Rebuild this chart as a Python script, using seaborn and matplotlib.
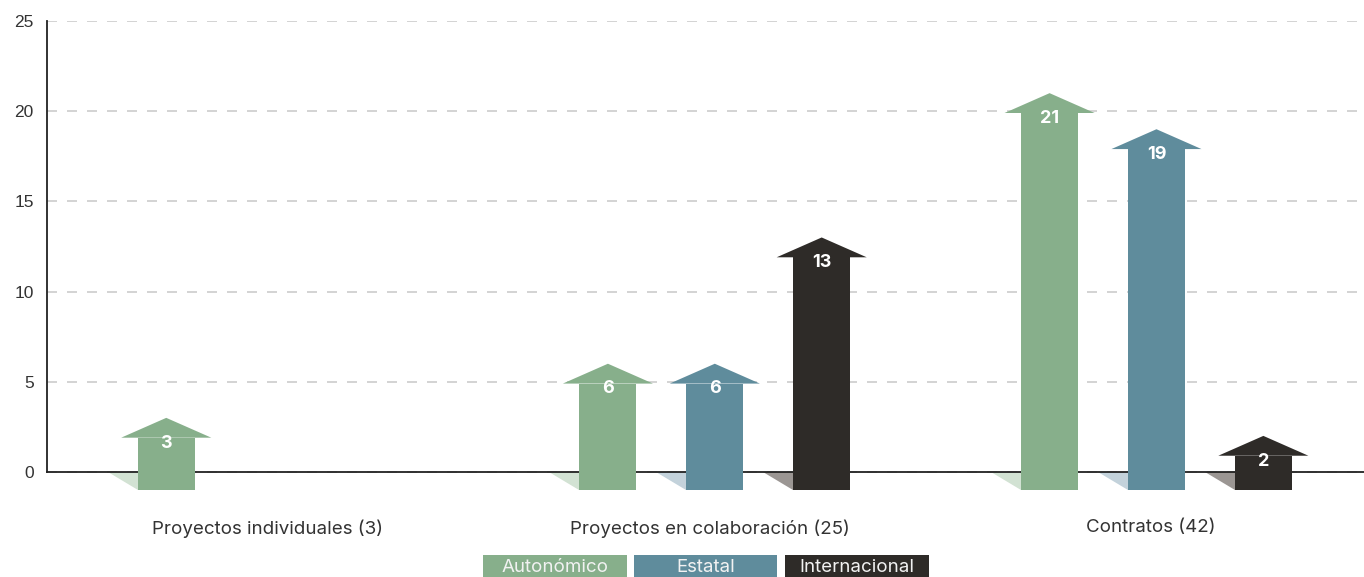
import matplotlib
matplotlib.use("Agg")
import matplotlib.pyplot as plt
from matplotlib.patches import Polygon, Rectangle
import pandas as pd
import seaborn as sns

categorias = ["Proyectos individuales (3)", "Proyectos en colaboración (25)", "Contratos (42)"]
tipos = ["Autonómico", "Estatal", "Internacional"]
cat_col = [categorias[0], categorias[1], categorias[1], categorias[1],
           categorias[2], categorias[2], categorias[2]]
tipo_col = ["Autonómico", "Autonómico", "Estatal", "Internacional",
            "Autonómico", "Estatal", "Internacional"]
valores = [3, 6, 6, 13, 21, 19, 2]
yticks = [0, 5, 10, 15, 20, 25]

colores = ["#87af8b", "#5f8c9c", "#2e2b28"]
sombras = ["#d2e2d3", "#c3d2db", "#9b9693"]

df = pd.DataFrame({"categoria": cat_col, "tipo": tipo_col, "valor": valores})

sns.set_style("white")
plt.rcParams["lines.scale_dashes"] = False

W, H = 1364, 577
fig = plt.figure(figsize=(W / 100, H / 100), dpi=100)
ax = fig.add_axes([47 / W, 87 / H, 1325 / W, 469 / H])

sns.barplot(data=df, x="categoria", y="valor", hue="tipo", order=categorias,
            hue_order=tipos, palette=colores, width=0.726, saturation=1,
            legend=False, ax=ax)

# convertir barras en flechas
cabeza = 1.1
ancho = 0.129
ancho_cabeza = 0.204
sombra = 0.068
for i, cont in enumerate(ax.containers):
    for p in cont.patches:
        v = p.get_height()
        cx = p.get_x() + p.get_width() / 2 + 0.012
        x0 = cx - ancho / 2
        p.set_x(x0)
        p.set_width(ancho)
        p.set_y(-1)
        p.set_height(v - cabeza + 1)
        p.set_linewidth(0)
        p.set_zorder(3)
        ax.add_patch(Polygon([(cx - ancho_cabeza / 2, v - cabeza), (cx + ancho_cabeza / 2, v - cabeza), (cx, v)],
                             closed=True, facecolor=colores[i], lw=0, zorder=3))
        ax.add_patch(Polygon([(x0 - sombra, 0), (x0, 0), (x0, -1)],
                             closed=True, facecolor=sombras[i], lw=0, zorder=1))
        ax.text(cx, v - cabeza - 0.3, f"{v:.0f}", ha="center", va="center", color="white",
                fontsize=13, fontweight="bold", family="Inter", zorder=4)

ax.set_xlim(-0.5, 2.5)
ax.set_ylim(-1, 25)
ax.set_yticks(yticks)
ax.set_xlabel("")
ax.set_ylabel("")

ax.yaxis.grid(True, color="#d0d0d0", linestyle=(0, (7.2, 7.2)), lw=1.3)
ax.xaxis.grid(False)
ax.set_axisbelow(True)

for s in ["top", "right"]:
    ax.spines[s].set_visible(False)
ax.spines["bottom"].set_position(("data", 0))
ax.spines["left"].set_bounds(0, 25)
for s in ["bottom", "left"]:
    ax.spines[s].set_color("#222222")
    ax.spines[s].set_linewidth(1.3)
    ax.spines[s].set_zorder(2)

ax.tick_params(axis="y", length=5.5, width=1.1, color="#222222", pad=4,
               labelsize=12.5, labelcolor="#333333", labelfontfamily="Liberation Sans")
ax.tick_params(axis="x", which="major", length=0, pad=34, labelsize=13.5,
               labelcolor="#333333", labelfontfamily="Inter")
ax.set_xticks([-0.5, 0.5, 1.5], minor=True)
ax.tick_params(axis="x", which="minor", length=5, width=1.3, color="#222222", direction="out")

# leyenda en cajas
cajas = [(483, 144), (634, 143), (785, 144)]
for (x, w), t, c in zip(cajas, tipos, colores):
    fig.patches.append(Rectangle((x / W, 0), w / W, 22 / H, transform=fig.transFigure,
                                 facecolor=c, lw=0))
    fig.text((x + w / 2) / W, 10 / H, t, ha="center", va="center", color="#f2f2f2",
             fontsize=13.5, family="Inter")

fig.savefig("out.png", dpi=100)
